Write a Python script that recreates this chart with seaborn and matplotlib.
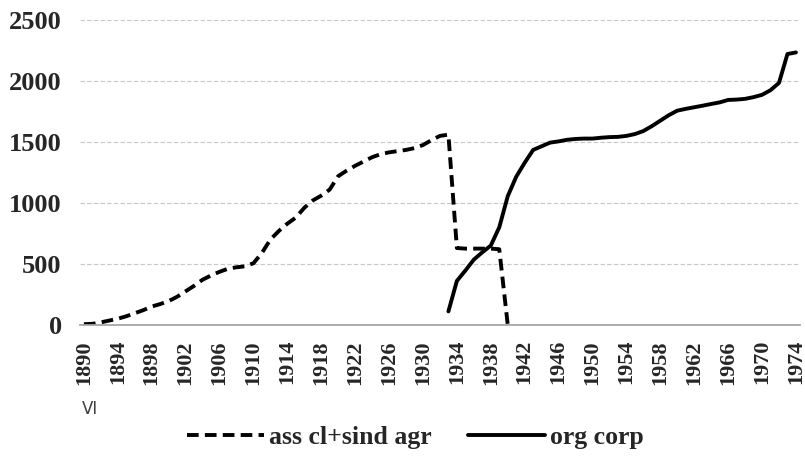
import pandas as pd
import matplotlib.pyplot as plt
import seaborn as sns

# values
years_ass = list(range(1890, 1941))
ass_values = [5, 8, 20, 35, 50, 70, 95, 120, 150, 170,
              195, 230, 275, 320, 370, 405, 435, 460, 472, 480,
              505, 590, 700, 770, 830, 880, 960, 1020, 1060, 1110,
              1220, 1265, 1305, 1340, 1375, 1400, 1415, 1425, 1435, 1450,
              1475, 1515, 1550, 1560, 630, 625, 625, 625, 625, 620,
              0]

years_org = list(range(1933, 1975))
org_values = [110, 360, 445, 535, 595, 650, 800, 1055, 1215, 1330,
              1435, 1465, 1495, 1505, 1518, 1525, 1528, 1528, 1535, 1540,
              1542, 1550, 1565, 1590, 1630, 1675, 1720, 1757, 1772, 1785,
              1798, 1812, 1825, 1845, 1848, 1854, 1868, 1887, 1925, 1985,
              2222, 2235]

tick_years = list(range(1890, 1975, 4))
y_ticks = [0, 500, 1000, 1500, 2000, 2500]
series_labels = ['ass cl+sind agr', 'org corp']

sns.set_style('white')
plt.rcParams['font.family'] = ['Liberation Serif', 'DejaVu Serif']

df_ass = pd.DataFrame({'year': years_ass, 'value': ass_values})
df_org = pd.DataFrame({'year': years_org, 'value': org_values})

fig = plt.figure(figsize=(8.05, 4.68), dpi=100)
ax = fig.add_axes([0.099, 0.306, 0.895, 0.651])

sns.lineplot(data=df_ass, x='year', y='value', ax=ax, color='black',
             linewidth=2.8, linestyle=(0, (3, 1.6)), label=series_labels[0])
sns.lineplot(data=df_org, x='year', y='value', ax=ax, color='black',
             linewidth=2.8, label=series_labels[1])

ax.set_xlim(1889.5, 1974.5)
ax.set_ylim(0, 2500)
ax.set_xticks(tick_years)
ax.set_xticklabels([str(y) for y in tick_years], rotation=90,
                   fontsize=16, fontweight='bold')
ax.set_yticks(y_ticks)
ax.set_yticklabels([str(v) for v in y_ticks], fontsize=19, fontweight='bold')
ax.tick_params(axis='both', length=0)
ax.tick_params(axis='y', pad=13)
ax.tick_params(axis='x', pad=11)
ax.set_xlabel('')
ax.set_ylabel('')

ax.yaxis.grid(True, color='#c8c8c8', linestyle=(0, (4, 2)), linewidth=0.8)
ax.xaxis.grid(False)
for side in ['left', 'right', 'top']:
    ax.spines[side].set_visible(False)
ax.spines['bottom'].set_color('#a6a6a6')
ax.spines['bottom'].set_linewidth(1.3)

ax.legend(loc='center', bbox_to_anchor=(0.516, 0.066),
          bbox_transform=fig.transFigure, ncol=2, frameon=False,
          handlelength=3.0, columnspacing=1.4, handletextpad=0.2,
          prop={'weight': 'bold', 'size': 18.5})

fig.text(0.102, 0.126, 'VI', family='DejaVu Sans', fontsize=12,
         color='#404040', va='center', ha='left')

fig.savefig('out.png', dpi=100)
